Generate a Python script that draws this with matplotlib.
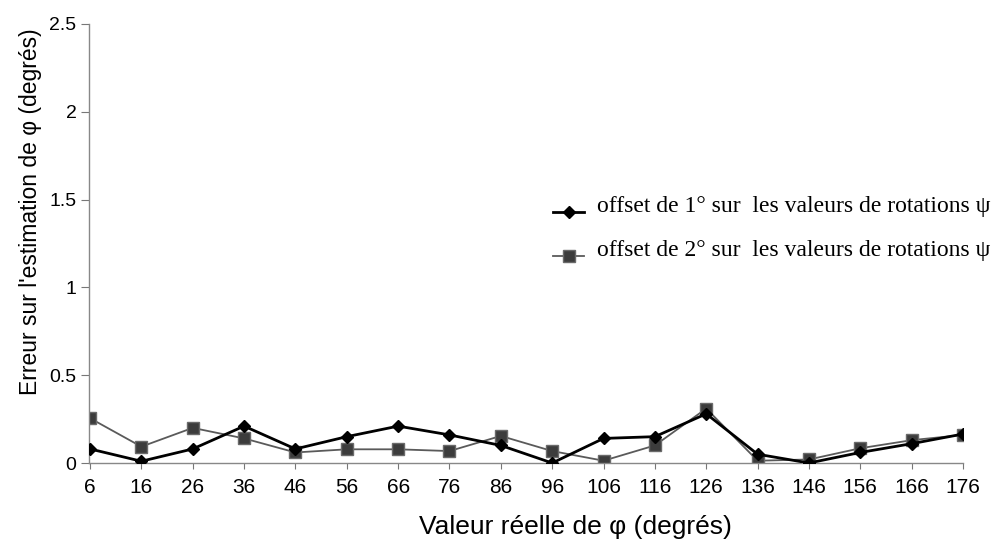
import matplotlib
matplotlib.use("Agg")
import matplotlib.pyplot as plt
import numpy as np

# Real value of phi (degrees) — category labels
phi_labels = ["6", "16", "26", "36", "46", "56", "66", "76", "86", "96",
              "106", "116", "126", "136", "146", "156", "166", "176"]

# Estimation error on phi (degrees)
err_offset_1 = [0.08, 0.01, 0.08, 0.21, 0.08, 0.15, 0.21, 0.16, 0.10, 0.00,
                0.14, 0.15, 0.28, 0.05, 0.00, 0.06, 0.11, 0.165]
err_offset_2 = [0.255, 0.093, 0.20, 0.14, 0.06, 0.078, 0.078, 0.068, 0.154, 0.068,
                0.013, 0.10, 0.31, 0.013, 0.02, 0.084, 0.13, 0.16]

legend_labels = ["offset de 1° sur  les valeurs de rotations ψ",
                 "offset de 2° sur  les valeurs de rotations ψ"]

y_ticks = [0, 0.5, 1, 1.5, 2, 2.5]
y_ticklabels = ["0", "0.5", "1", "1.5", "2", "2.5"]

W, H = 1004, 542
fig = plt.figure(figsize=(W / 100, H / 100), dpi=100)
ax = fig.add_axes([89 / W, 1 - 463 / H, (963 - 89) / W, (463 - 24) / H])

style_1 = dict(color="black", lw=2.0, marker="D", markersize=6,
               markerfacecolor="black", markeredgecolor="black")
style_2 = dict(color="#5a5a5a", lw=1.3, marker="s", markersize=8,
               markerfacecolor="#3c3c3c", markeredgecolor="#6a6a6a", markeredgewidth=1.0)

x = np.arange(len(phi_labels))
ax.plot(x, err_offset_1, zorder=3, **style_1)
ax.plot(x, err_offset_2, zorder=2, **style_2)

ax.set_xlim(-0.02, len(phi_labels) - 1)
ax.set_ylim(0, 2.5)

ax.set_xticks(x)
ax.set_xticklabels(phi_labels, fontfamily="Liberation Sans", fontsize=15)
ax.set_yticks(y_ticks)
ax.set_yticklabels(y_ticklabels, fontfamily="Liberation Sans", fontsize=14)
ax.tick_params(axis="x", direction="out", length=4, width=0.8, color="#777777", pad=7)
ax.tick_params(axis="y", direction="out", length=6, width=0.8, color="#777777", pad=3)

for side in ("top", "right"):
    ax.spines[side].set_visible(False)
for side in ("left", "bottom"):
    ax.spines[side].set_color("#888888")
    ax.spines[side].set_linewidth(1.0)

# Axis titles
fig.text(575 / W, 1 - 527 / H, "Valeur réelle de φ (degrés)",
         fontfamily="Liberation Sans", fontsize=19, ha="center", va="center")
fig.text(31 / W, 1 - 212 / H, "Erreur sur l'estimation de φ (degrés)",
         fontfamily="Liberation Sans", fontsize=16.5, rotation=90,
         ha="center", va="center")

# Legend entries drawn in figure coordinates
line_x0, line_x1 = 553 / W, 584 / W
text_x = 597 / W
for i, (lbl, style) in enumerate(zip(legend_labels, [style_1, style_2])):
    yy = 1 - (212 + 44 * i) / H
    fig.add_artist(plt.Line2D([line_x0, (line_x0 + line_x1) / 2, line_x1], [yy, yy, yy],
                              markevery=[1], transform=fig.transFigure, **style))
    fig.text(text_x, yy, lbl, fontfamily="Liberation Serif", fontsize=17,
             va="baseline", ha="left")

fig.savefig("out.png", dpi=100)
